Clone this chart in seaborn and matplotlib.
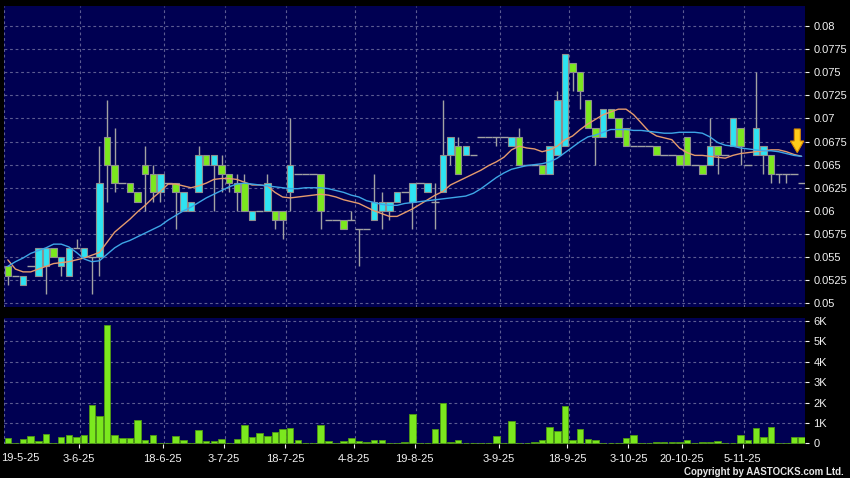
import matplotlib
matplotlib.use("Agg")
import matplotlib.pyplot as plt
from matplotlib.patches import Polygon
import numpy as np
import pandas as pd
import seaborn as sns

# ---------------- data ----------------
opens = [0.054, 0.053, 0.052, 0.054, 0.053, 0.054, 0.056, 0.054, 0.053, 0.056,
         0.055, 0.055, 0.055, 0.068, 0.065, 0.063, 0.063, 0.062, 0.065, 0.064,
         0.062, 0.063, 0.063, 0.060, 0.060, 0.062, 0.066, 0.065, 0.065, 0.064,
         0.063, 0.063, 0.059, 0.060, 0.060, 0.060, 0.060, 0.062, 0.064, 0.064,
         0.064, 0.064, 0.059, 0.059, 0.059, 0.059, 0.058, 0.058, 0.059, 0.060,
         0.060, 0.061, 0.062, 0.061, 0.063, 0.062, 0.061, 0.062, 0.066, 0.067,
         0.066, 0.066, 0.068, 0.068, 0.068, 0.068, 0.067, 0.068, 0.065, 0.065,
         0.065, 0.064, 0.066, 0.067, 0.076, 0.075, 0.072, 0.069, 0.068, 0.071,
         0.070, 0.069, 0.067, 0.067, 0.067, 0.067, 0.066, 0.066, 0.066, 0.068,
         0.065, 0.065, 0.065, 0.067, 0.066, 0.067, 0.069, 0.065, 0.066, 0.066,
         0.066, 0.064, 0.064, 0.064, 0.063]
highs = [0.054, 0.053, 0.053, 0.054, 0.056, 0.056, 0.056, 0.055, 0.056, 0.057,
         0.056, 0.055, 0.067, 0.072, 0.069, 0.063, 0.063, 0.062, 0.067, 0.065,
         0.064, 0.063, 0.063, 0.062, 0.061, 0.067, 0.066, 0.066, 0.066, 0.064,
         0.064, 0.064, 0.060, 0.060, 0.064, 0.060, 0.060, 0.070, 0.064, 0.064,
         0.064, 0.064, 0.059, 0.059, 0.059, 0.060, 0.058, 0.058, 0.064, 0.062,
         0.061, 0.062, 0.062, 0.063, 0.063, 0.063, 0.063, 0.072, 0.068, 0.068,
         0.067, 0.066, 0.068, 0.068, 0.068, 0.068, 0.068, 0.069, 0.065, 0.065,
         0.065, 0.067, 0.073, 0.077, 0.076, 0.075, 0.072, 0.069, 0.071, 0.071,
         0.070, 0.069, 0.067, 0.067, 0.067, 0.067, 0.066, 0.066, 0.066, 0.068,
         0.065, 0.065, 0.070, 0.067, 0.066, 0.070, 0.069, 0.065, 0.075, 0.067,
         0.066, 0.064, 0.064, 0.064, 0.063]
lows = [0.052, 0.053, 0.052, 0.054, 0.053, 0.051, 0.055, 0.053, 0.053, 0.056,
        0.055, 0.051, 0.053, 0.061, 0.062, 0.063, 0.062, 0.061, 0.060, 0.061,
        0.061, 0.063, 0.058, 0.060, 0.060, 0.062, 0.065, 0.060, 0.062, 0.062,
        0.060, 0.060, 0.059, 0.060, 0.060, 0.058, 0.057, 0.060, 0.064, 0.064,
        0.064, 0.058, 0.059, 0.059, 0.058, 0.059, 0.054, 0.058, 0.059, 0.058,
        0.059, 0.061, 0.062, 0.058, 0.063, 0.062, 0.058, 0.062, 0.065, 0.064,
        0.066, 0.066, 0.068, 0.068, 0.067, 0.068, 0.067, 0.065, 0.065, 0.065,
        0.064, 0.064, 0.066, 0.067, 0.073, 0.071, 0.069, 0.065, 0.068, 0.070,
        0.068, 0.067, 0.067, 0.067, 0.067, 0.066, 0.066, 0.066, 0.065, 0.065,
        0.065, 0.064, 0.065, 0.064, 0.066, 0.067, 0.065, 0.065, 0.066, 0.064,
        0.063, 0.063, 0.063, 0.064, 0.063]
closes = [0.053, 0.053, 0.053, 0.054, 0.056, 0.056, 0.055, 0.055, 0.056, 0.056,
          0.056, 0.055, 0.063, 0.065, 0.063, 0.063, 0.062, 0.061, 0.064, 0.062,
          0.064, 0.063, 0.062, 0.062, 0.061, 0.066, 0.065, 0.066, 0.064, 0.063,
          0.062, 0.060, 0.060, 0.060, 0.063, 0.059, 0.059, 0.065, 0.064, 0.064,
          0.064, 0.060, 0.059, 0.059, 0.058, 0.059, 0.058, 0.058, 0.061, 0.061,
          0.061, 0.062, 0.062, 0.063, 0.063, 0.063, 0.061, 0.066, 0.068, 0.064,
          0.067, 0.066, 0.068, 0.068, 0.068, 0.068, 0.068, 0.065, 0.065, 0.065,
          0.064, 0.067, 0.072, 0.077, 0.075, 0.073, 0.069, 0.068, 0.071, 0.070,
          0.068, 0.067, 0.067, 0.067, 0.067, 0.066, 0.066, 0.066, 0.065, 0.065,
          0.065, 0.064, 0.067, 0.066, 0.066, 0.070, 0.067, 0.065, 0.069, 0.067,
          0.064, 0.064, 0.064, 0.064, 0.063]
volumes_k = [0.26, 0.00, 0.21, 0.38, 0.10, 0.46, 0.02, 0.29, 0.39, 0.33,
             0.39, 1.88, 1.34, 5.78, 0.42, 0.26, 0.25, 1.14, 0.16, 0.42,
             0.02, 0.00, 0.34, 0.15, 0.02, 0.65, 0.10, 0.11, 0.23, 0.02,
             0.20, 0.90, 0.31, 0.49, 0.38, 0.56, 0.70, 0.75, 0.18, 0.00,
             0.00, 0.92, 0.13, 0.00, 0.10, 0.28, 0.13, 0.08, 0.18, 0.18,
             0.00, 0.00, 0.08, 1.42, 0.00, 0.02, 0.72, 1.96, 0.07, 0.15,
             0.00, 0.00, 0.00, 0.00, 0.36, 0.00, 1.11, 0.02, 0.00, 0.07,
             0.15, 0.78, 0.59, 1.83, 0.16, 0.72, 0.21, 0.15, 0.02, 0.02,
             0.02, 0.28, 0.39, 0.00, 0.00, 0.06, 0.04, 0.06, 0.05, 0.15,
             0.00, 0.05, 0.05, 0.13, 0.00, 0.00, 0.39, 0.18, 0.75, 0.33,
             0.82, 0.00, 0.00, 0.31, 0.31]
ma_fast = [0.0547, 0.0537, 0.0534, 0.0534, 0.0537, 0.0540, 0.0543, 0.0544, 0.0545, 0.0547,
           0.0549, 0.0552, 0.0555, 0.0566, 0.0577, 0.0584, 0.0591, 0.0599, 0.0606, 0.0614,
           0.0621, 0.0629, 0.0629, 0.0627, 0.0625, 0.0627, 0.0630, 0.0634, 0.0635, 0.0635,
           0.0634, 0.0631, 0.0628, 0.0628, 0.0627, 0.0620, 0.0615, 0.0614, 0.0615, 0.0616,
           0.0617, 0.0618, 0.0617, 0.0615, 0.0612, 0.0610, 0.0608, 0.0604, 0.0600, 0.0597,
           0.0594, 0.0594, 0.0598, 0.0602, 0.0607, 0.0612, 0.0617, 0.0621, 0.0628, 0.0632,
           0.0636, 0.0640, 0.0644, 0.0649, 0.0653, 0.0658, 0.0666, 0.0670, 0.0668, 0.0667,
           0.0664, 0.0666, 0.0670, 0.0677, 0.0681, 0.0688, 0.0694, 0.0699, 0.0704, 0.0707,
           0.0710, 0.0710, 0.0704, 0.0695, 0.0686, 0.0681, 0.0679, 0.0677, 0.0668, 0.0663,
           0.0660, 0.0660, 0.0659, 0.0658, 0.0657, 0.0660, 0.0662, 0.0663, 0.0664, 0.0665,
           0.0666, 0.0666, 0.0664, 0.0661, 0.0659]
ma_slow = [0.0540, 0.0545, 0.0549, 0.0554, 0.0557, 0.0560, 0.0564, 0.0564, 0.0561, 0.0555,
           0.0548, 0.0545, 0.0546, 0.0553, 0.0560, 0.0565, 0.0568, 0.0572, 0.0576, 0.0580,
           0.0584, 0.0590, 0.0595, 0.0600, 0.0604, 0.0609, 0.0614, 0.0618, 0.0622, 0.0626,
           0.0629, 0.0630, 0.0629, 0.0628, 0.0627, 0.0626, 0.0625, 0.0624, 0.0624, 0.0625,
           0.0625, 0.0625, 0.0624, 0.0622, 0.0620, 0.0617, 0.0615, 0.0611, 0.0609, 0.0607,
           0.0606, 0.0606, 0.0608, 0.0609, 0.0610, 0.0611, 0.0612, 0.0613, 0.0614, 0.0615,
           0.0616, 0.0619, 0.0624, 0.0630, 0.0636, 0.0641, 0.0645, 0.0647, 0.0649, 0.0650,
           0.0651, 0.0653, 0.0657, 0.0663, 0.0669, 0.0675, 0.0680, 0.0682, 0.0685, 0.0688,
           0.0688, 0.0688, 0.0687, 0.0687, 0.0686, 0.0685, 0.0684, 0.0684, 0.0685, 0.0685,
           0.0685, 0.0684, 0.0680, 0.0674, 0.0671, 0.0670, 0.0668, 0.0667, 0.0666, 0.0665,
           0.0665, 0.0664, 0.0662, 0.0660, 0.0659]

date_labels = ["19-5-25", "3-6-25", "18-6-25", "3-7-25", "18-7-25", "4-8-25",
               "19-8-25", "3-9-25", "18-9-25", "3-10-25", "20-10-25", "5-11-25"]
date_slots = [-1, 9, 20, 28, 36, 45, 53, 64, 73, 81, 88, 96]
price_ticks = [0.05, 0.0525, 0.055, 0.0575, 0.06, 0.0625, 0.065,
               0.0675, 0.07, 0.0725, 0.075, 0.0775, 0.08]
price_tick_labels = ["0.05", "0.0525", "0.055", "0.0575", "0.06", "0.0625", "0.065",
                     "0.0675", "0.07", "0.0725", "0.075", "0.0775", "0.08"]
vol_ticks = [0, 1, 2, 3, 4, 5, 6]
vol_tick_labels = ["0", "1K", "2K", "3K", "4K", "5K", "6K"]

# ---------------- styling ----------------
NAVY = "#000052"
GRID = "#5c5c92"
CYAN = "#2ee3f2"
GREEN = "#7be81e"
EDGE = "#8f8f8f"
WICK = "#a2a2a2"
ORANGE = "#e59b6d"
BLUE = "#3ea6e6"
TXT = "#f2f2f2"

sns.set_theme(style="dark")
plt.rcParams["font.family"] = ["Liberation Sans", "DejaVu Sans"]

df = pd.DataFrame({"open": opens, "high": highs, "low": lows, "close": closes,
                   "volume": volumes_k, "ma_fast": ma_fast, "ma_slow": ma_slow})
df["slot"] = np.arange(len(df))

W, H = 850, 478
fig = plt.figure(figsize=(W / 100, H / 100), dpi=100, facecolor="black")
ax = fig.add_axes([4 / W, (H - 307) / H, 801 / W, 301 / H])
axv = fig.add_axes([4 / W, (H - 444) / H, 801 / W, 126 / H])

for a in (ax, axv):
    a.set_facecolor(NAVY)
    for s in a.spines.values():
        s.set_visible(False)

grid_pos = [s + 0.5 for s in date_slots]
label_pos = [s + 0.3 for s in date_slots[1:]]

# ---------------- price panel ----------------
up = df[df.close > df.open]
dn = df[df.close < df.open]
fl = df[df.close == df.open]

ax.vlines(df.slot, df.low, df.high, color=WICK, linewidth=1.0, zorder=2)
ax.bar(up.slot, up.close - up.open, bottom=up.open, width=0.85, color=CYAN,
       edgecolor=EDGE, linewidth=0.8, zorder=3)
ax.bar(dn.slot, dn.open - dn.close, bottom=dn.close, width=0.85, color=GREEN,
       edgecolor=EDGE, linewidth=0.8, zorder=3)
ax.hlines(fl.close, fl.slot - 0.5, fl.slot + 0.5, color=WICK, linewidth=1.0, zorder=3)

sns.lineplot(data=df, x="slot", y="ma_fast", ax=ax, color=ORANGE, linewidth=1.0, zorder=4)
sns.lineplot(data=df, x="slot", y="ma_slow", ax=ax, color=BLUE, linewidth=1.0, zorder=4)

ax.set_xlim(-0.46, 104.45)
ax.set_ylim(0.0496, 0.08216)
ax.set_xlabel("")
ax.set_ylabel("")
ax.yaxis.tick_right()
ax.set_yticks(price_ticks)
ax.set_yticklabels(price_tick_labels)
ax.tick_params(axis="y", colors=TXT, labelcolor=TXT, length=3, width=0.8, pad=3,
               labelsize=8, direction="out", right=True, left=False)
ax.set_xticks([])
ax.set_xticks(grid_pos, minor=True)
ax.tick_params(axis="x", which="both", length=0, labelbottom=False)
ax.grid(False)
ax.grid(axis="y", which="major", color=GRID, linestyle=(0, (2.5, 2.5)), linewidth=0.8, zorder=1)
ax.grid(axis="x", which="minor", color=GRID, linestyle=(0, (2.5, 2.5)), linewidth=0.8, zorder=1)
ax.set_axisbelow(True)

# yellow down arrow marker at right edge (decoration, axes coordinates)
arrow = Polygon([[0.9866, 0.5914], [0.9941, 0.5914], [0.9941, 0.5515],
                 [0.9985, 0.5515], [0.9903, 0.5130], [0.9818, 0.5515],
                 [0.9866, 0.5515]], closed=True, transform=ax.transAxes,
                facecolor="#ffcc1a", edgecolor="#d98a00", linewidth=0.8, zorder=6)
ax.add_patch(arrow)

# ---------------- volume panel ----------------
sns.barplot(data=df, x="slot", y="volume", native_scale=True, width=0.85,
            color=GREEN, edgecolor="#4f9a12", linewidth=0.6, saturation=1,
            errorbar=None, ax=axv, zorder=3)
axv.set_xlim(-0.46, 104.45)
axv.set_ylim(-0.035, 6.147)
axv.set_xlabel("")
axv.set_ylabel("")
axv.yaxis.tick_right()
axv.set_yticks(vol_ticks)
axv.set_yticklabels(vol_tick_labels)
axv.tick_params(axis="y", colors=TXT, labelcolor=TXT, length=3, width=0.8, pad=3,
                labelsize=8, direction="out", right=True, left=False)
axv.set_xticks(label_pos)
axv.set_xticklabels(date_labels[1:])
axv.set_xticks(grid_pos, minor=True)
axv.tick_params(axis="x", which="major", colors=TXT, labelcolor=TXT, length=3,
                width=0.8, pad=4, labelsize=8, direction="out", bottom=True)
axv.tick_params(axis="x", which="minor", length=0)
axv.grid(False)
axv.grid(axis="y", which="major", color=GRID, linestyle=(0, (2.5, 2.5)), linewidth=0.8, zorder=1)
axv.grid(axis="x", which="minor", color=GRID, linestyle=(0, (2.5, 2.5)), linewidth=0.8, zorder=1)
axv.set_axisbelow(True)

# first date label sits at the left edge; keep it fully inside the figure
fig.text(1 / W, 1 - 458 / H, date_labels[0], ha="left", va="center",
         fontsize=8, color=TXT)

fig.text(844 / W, 1 - 472 / H, "Copyright by AASTOCKS.com Ltd.", ha="right", va="center",
         fontsize=7, fontweight="bold", color="#e6e6e6")

fig.savefig("out.png", dpi=100, facecolor="black")
